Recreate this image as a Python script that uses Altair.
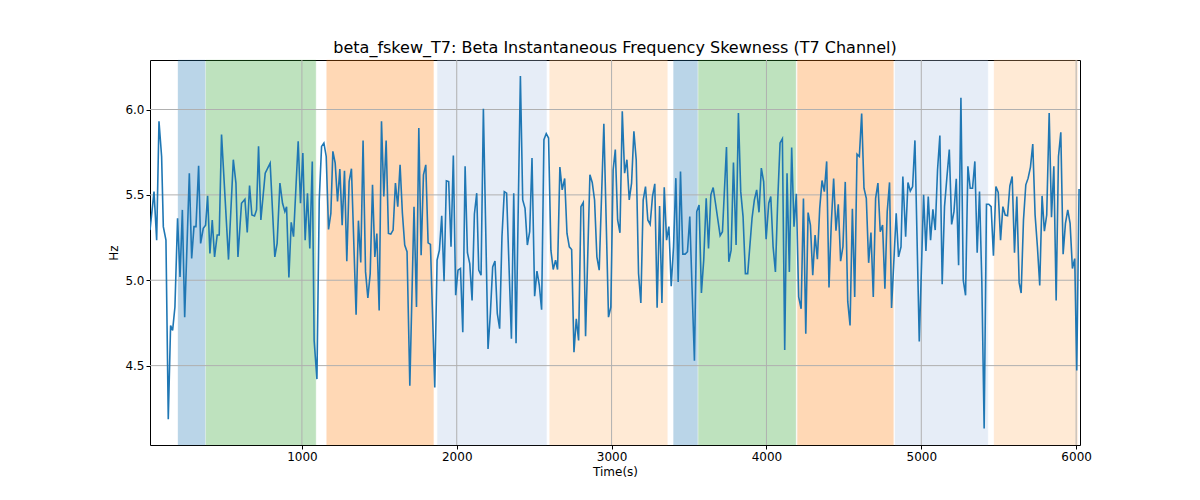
import altair as alt
import pandas as pd

# time (s) and beta instantaneous-frequency skewness (Hz)
times = [
    19, 45, 62, 77, 94, 105, 122, 137, 152, 165, 180, 197, 213, 228, 243, 273, 288, 303, 316, 333,
    346, 363, 378, 391, 406, 421, 436, 453, 466, 481, 526, 557, 574, 587, 610, 632, 647, 662, 677, 694,
    707, 720, 735, 763, 795, 825, 840, 858, 875, 890, 901, 916, 931, 946, 976, 991, 1006, 1021, 1036, 1051,
    1067, 1079, 1097, 1112, 1127, 1142, 1157, 1172, 1187, 1200, 1215, 1230, 1245, 1260, 1275, 1290, 1305, 1320,
    1350, 1365, 1380, 1395, 1411, 1426, 1441, 1456, 1471, 1484, 1499, 1514, 1529, 1544, 1559, 1574, 1589, 1604,
    1619, 1634, 1649, 1664, 1679, 1697, 1724, 1740, 1755, 1770, 1785, 1800, 1815, 1830, 1858, 1873, 1888, 1903,
    1918, 1933, 1948, 1963, 1978, 1993, 2008,
    2024, 2039, 2054, 2069, 2084, 2099, 2114, 2129, 2142, 2157, 2172, 2202, 2217, 2232, 2247, 2262, 2277, 2292,
    2307, 2322, 2353, 2368, 2383, 2411, 2426, 2441, 2456, 2471, 2486, 2503, 2518, 2533, 2548, 2563, 2578, 2593,
    2608, 2623, 2638, 2651, 2666, 2681, 2697, 2712, 2727, 2742, 2757, 2772, 2787, 2802, 2817, 2832, 2860, 2875,
    2890, 2905, 2920, 2950, 2980, 2995, 3010,
    3024, 3039, 3054, 3069, 3084, 3099, 3114, 3129, 3144, 3159, 3174, 3189, 3204, 3219, 3234, 3249, 3264, 3279,
    3294, 3310, 3325, 3340, 3355, 3370, 3385, 3400, 3415, 3430, 3445, 3460, 3475, 3490, 3505, 3520, 3535, 3550,
    3565, 3580, 3595, 3611, 3626, 3641, 3656, 3671, 3701, 3716, 3742, 3757, 3772, 3787, 3804, 3819, 3834, 3849,
    3864, 3879, 3907, 3922, 3937, 3952, 3967, 3982, 3998, 4015,
    4028, 4043, 4058, 4073, 4088, 4103, 4118, 4133, 4148, 4163, 4178, 4193, 4208, 4224, 4239, 4254, 4269, 4284,
    4299, 4314, 4329, 4344, 4359, 4374, 4389, 4404, 4419, 4434, 4449, 4464, 4479, 4494, 4509, 4525, 4540, 4555,
    4570, 4585, 4600, 4615, 4630, 4645, 4660, 4675, 4690, 4705, 4720, 4735, 4750, 4765, 4780, 4795, 4808, 4838,
    4853, 4869, 4881, 4899, 4914, 4929, 4944, 4959, 4987, 5015,
    5030, 5045, 5060, 5075, 5090, 5105, 5120, 5135, 5150, 5165, 5181, 5196, 5211, 5226, 5241, 5256, 5271, 5286,
    5301, 5316, 5331, 5346, 5361, 5376, 5391, 5406, 5421, 5436, 5451, 5466, 5482, 5497, 5512, 5527, 5542, 5557,
    5572, 5587, 5602, 5617, 5632, 5645, 5660, 5675, 5690, 5705, 5720, 5735, 5750, 5765, 5780, 5795, 5810, 5826,
    5841, 5856, 5871, 5886, 5901, 5916, 5931, 5946, 5961, 5976, 5991, 6004, 6019,
]
values = [
    5.294, 5.519, 5.235, 5.931, 5.725, 5.314, 5.235, 4.186, 4.735, 4.706, 4.843, 5.363, 5.019, 5.412, 4.784, 5.627, 5.127, 5.314, 5.314, 5.670,
    5.216, 5.304, 5.323, 5.494, 5.157, 5.353, 5.137, 5.265, 5.265, 5.853, 5.121, 5.706, 5.569, 5.137, 5.451, 5.474, 5.280, 5.555, 5.382, 5.376,
    5.412, 5.784, 5.353, 5.627, 5.686, 5.137, 5.216, 5.569, 5.451, 5.402, 5.431, 5.016, 5.339, 5.255, 5.814, 5.451, 5.745, 5.235, 5.510, 5.186,
    5.696, 4.647, 4.421, 5.470, 5.784, 5.804, 5.725, 5.298, 5.392, 5.755, 5.686, 5.461, 5.651, 5.323, 5.641, 5.112, 5.578, 5.653,
    4.798, 5.349, 5.104, 5.818, 5.049, 4.896, 5.039, 5.559, 5.137, 5.274, 4.823, 5.931, 5.490, 5.818, 5.274, 5.270, 5.294, 5.569,
    5.431, 5.676, 5.392, 5.206, 5.167, 4.382, 5.431, 4.843, 5.892, 5.147, 5.618, 5.676, 5.219, 5.210, 4.372, 5.118, 5.176, 5.378,
    4.994, 5.582, 5.578, 5.196, 5.731, 4.912, 5.059,
    5.069, 4.696, 5.667, 5.161, 5.098, 4.882, 5.388, 5.510, 5.059, 5.029, 6.004, 4.598, 4.804, 5.078, 5.112, 4.804, 4.716, 5.255,
    5.519, 5.510, 4.657, 5.510, 4.631, 6.196, 5.470, 5.421, 5.206, 5.284, 5.716, 4.906, 5.053, 4.971, 4.827, 5.823, 5.859, 5.833,
    5.176, 5.063, 5.118, 5.063, 5.663, 5.529, 5.596, 5.274, 5.196, 5.180, 4.578, 4.774, 4.647, 5.431, 5.455, 4.672, 5.618, 5.573,
    5.470, 5.137, 5.059, 5.916, 4.784, 4.843, 5.647,
    5.765, 5.353, 5.278, 5.990, 5.627, 5.706, 5.470, 5.569, 5.873, 5.706, 5.039, 4.867, 5.470, 5.549, 5.353, 5.327, 5.490, 5.565,
    4.839, 5.435, 4.867, 5.545, 5.235, 5.314, 4.965, 5.196, 5.598, 4.990, 5.637, 5.153, 5.153, 5.167, 5.373, 4.941, 4.529, 5.402,
    5.441, 4.925, 5.118, 5.480, 5.186, 5.500, 5.543, 5.451, 5.261, 5.284, 5.780, 5.108, 5.176, 5.690, 5.206, 5.980, 5.519, 5.373,
    5.039, 5.039, 5.363, 5.470, 5.529, 5.398, 5.657, 5.578, 5.241, 5.451,
    5.490, 5.196, 5.049, 5.470, 5.804, 5.829, 4.592, 5.627, 5.049, 5.778, 5.314, 5.506, 4.902, 4.833, 5.478, 4.686, 5.396, 5.323,
    5.029, 5.265, 5.123, 5.421, 5.584, 5.519, 5.696, 4.957, 5.337, 5.596, 5.290, 5.445, 5.112, 5.196, 5.576, 4.876, 4.735, 5.418,
    4.902, 5.739, 5.725, 5.976, 5.539, 5.480, 5.102, 5.280, 4.902, 5.480, 5.569, 5.284, 5.323, 4.951, 5.402, 5.573, 4.837, 5.392,
    5.137, 5.196, 5.608, 5.255, 5.573, 5.523, 5.549, 5.819, 4.641, 5.500,
    5.172, 5.490, 5.235, 5.416, 5.294, 5.647, 5.847, 4.976, 5.431, 5.598, 5.765, 5.327, 5.402, 5.594, 5.088, 6.069, 5.000, 4.912,
    5.667, 5.539, 5.539, 5.696, 5.161, 5.519, 4.990, 4.131, 5.445, 5.445, 5.431, 5.143, 5.549, 5.514, 5.235, 5.431, 5.382, 5.378,
    5.553, 5.608, 5.161, 5.490, 4.986, 4.925, 5.353, 5.559, 5.598, 5.663, 5.798, 5.382, 5.196, 4.969, 5.494, 5.288, 5.382, 5.980,
    5.369, 5.667, 4.882, 5.725, 5.867, 5.153, 5.333, 5.412, 5.333, 5.069, 5.127, 4.471, 5.535,
]

# shaded segments
band_start = [200, 380, 1160, 1875, 2600, 3400, 3560, 4200, 4830, 5470]
band_end = [375, 1090, 1850, 2580, 3360, 3555, 4190, 4820, 5430, 6010]
band_color = ["#1f77b4", "#2ca02c", "#ff7f0e", "#aec7e8", "#ffbb78",
              "#1f77b4", "#2ca02c", "#ff7f0e", "#aec7e8", "#ffbb78"]

x_ticks = [1000, 2000, 3000, 4000, 5000, 6000]
y_ticks = [4.5, 5.0, 5.5, 6.0]

series = pd.DataFrame({"t": times, "v": values})
bands = pd.DataFrame({"start": band_start, "end": band_end, "color": band_color})

X_SCALE = alt.Scale(domain=[19, 6025], nice=False, zero=False)
Y_SCALE = alt.Scale(domain=[4.035, 6.29], nice=False, zero=False)

spans = alt.Chart(bands).mark_rect(opacity=0.3, strokeWidth=1, strokeOpacity=0.35).encode(
    x=alt.X("start:Q", scale=X_SCALE),
    x2="end:Q",
    y=alt.value(0), y2=alt.value(385),
    color=alt.Color("color:N", scale=None),
    stroke=alt.Stroke("color:N", scale=None))

# grid drawn above the shaded spans, as matplotlib does
vgrid = alt.Chart(pd.DataFrame({"g": x_ticks})).mark_rule(
    color="#b0b0b0", strokeWidth=1).encode(x=alt.X("g:Q", scale=X_SCALE))
hgrid = alt.Chart(pd.DataFrame({"g": y_ticks})).mark_rule(
    color="#b0b0b0", strokeWidth=1).encode(y=alt.Y("g:Q", scale=Y_SCALE))

line = alt.Chart(series).mark_line(color="#1f77b4", strokeWidth=1.6, clip=True).encode(
    x=alt.X("t:Q", title="Time(s)", scale=X_SCALE,
            axis=alt.Axis(values=x_ticks, format="d")),
    y=alt.Y("v:Q", title="Hz", scale=Y_SCALE,
            axis=alt.Axis(values=y_ticks, format=".1f")))

chart = (spans + vgrid + hgrid + line).properties(
    width=930, height=385,
    title="beta_fskew_T7: Beta Instantaneous Frequency Skewness (T7 Channel)",
    autosize=alt.AutoSizeParams(type="none"),
    padding={"left": 142, "top": 52, "right": 112, "bottom": 47},
).configure_view(stroke="black", strokeWidth=1).configure_axis(
    grid=False, domain=False,
    tickColor="black", tickSize=4, labelFont="DejaVu Sans", labelFontSize=12,
    labelColor="black", titleFont="DejaVu Sans", titleFontSize=12,
    titleFontWeight="normal", titleColor="black",
).configure_title(font="DejaVu Sans", fontSize=16, fontWeight="normal", color="black")

chart.save("out.html", embed_options={"renderer": "svg", "actions": False})
